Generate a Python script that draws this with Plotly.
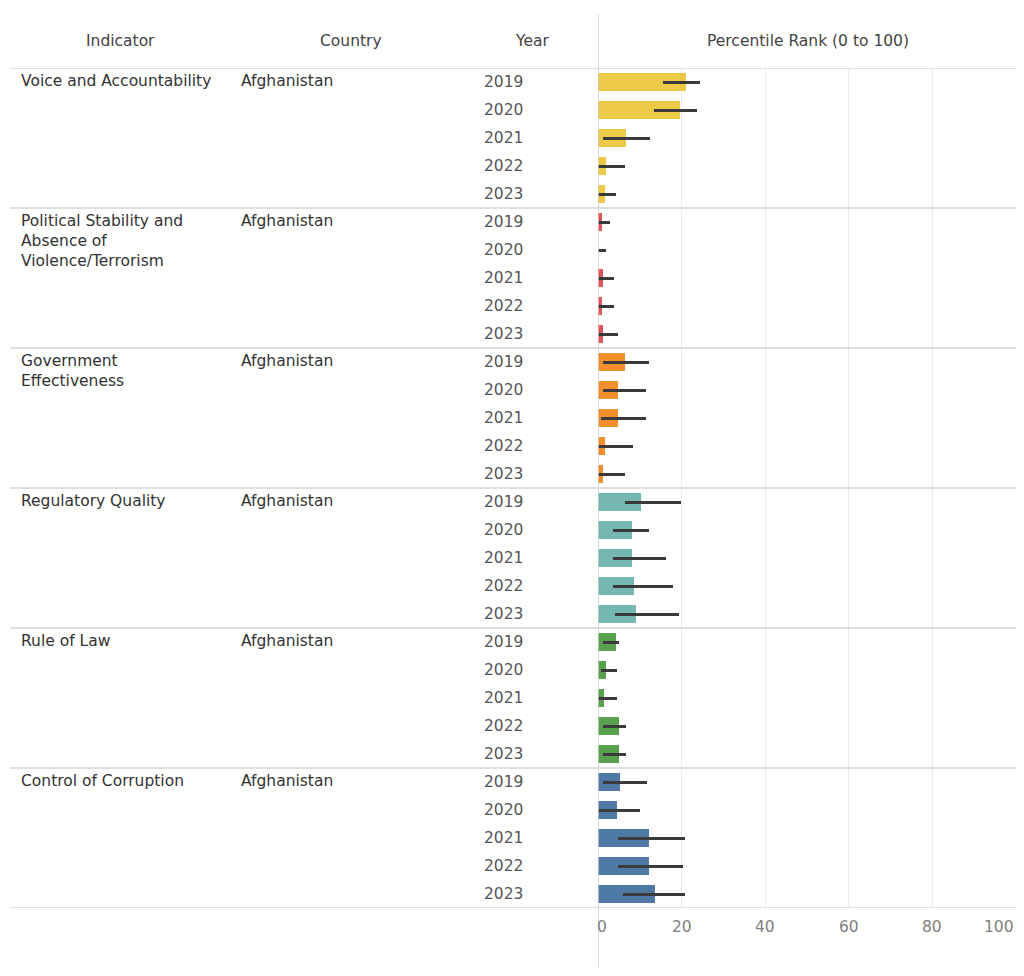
import plotly.graph_objects as go

indicators = [
    "Voice and Accountability",
    "Political Stability and Absence of Violence/Terrorism",
    "Government Effectiveness",
    "Regulatory Quality",
    "Rule of Law",
    "Control of Corruption",
]
indicator_labels = [
    "Voice and Accountability",
    "Political Stability and<br>Absence of<br>Violence/Terrorism",
    "Government<br>Effectiveness",
    "Regulatory Quality",
    "Rule of Law",
    "Control of Corruption",
]
country = "Afghanistan"
years = [2019, 2020, 2021, 2022, 2023]

rank = [
    [21.1, 19.5, 6.8, 2.0, 1.6],
    [0.9, 0.0, 1.2, 0.9, 1.2],
    [6.5, 4.9, 4.9, 1.6, 1.2],
    [10.2, 8.1, 8.1, 8.6, 9.1],
    [4.3, 2.0, 1.5, 5.0, 5.0],
    [5.3, 4.5, 12.2, 12.2, 13.7],
]
lower = [
    [15.6, 13.4, 1.2, 0.0, 0.0],
    [0.0, 0.0, 0.0, 0.0, 0.0],
    [1.2, 1.2, 0.8, 0.0, 0.0],
    [6.5, 3.6, 3.6, 3.6, 4.0],
    [1.2, 0.8, 0.0, 1.2, 1.2],
    [1.2, 0.0, 4.7, 4.7, 5.9],
]
upper = [
    [24.4, 23.7, 12.4, 6.4, 4.2],
    [2.8, 2.0, 3.9, 3.9, 4.9],
    [12.1, 11.5, 11.5, 8.3, 6.4],
    [19.9, 12.1, 16.2, 18.0, 19.4],
    [5.0, 4.5, 4.5, 6.8, 6.8],
    [11.8, 10.1, 20.8, 20.3, 20.8],
]
colors = ["#EDC948", "#E15759", "#F28E2B", "#76B7B2", "#59A14F", "#4E79A7"]
x_ticks = [0, 20, 40, 60, 80, 100]

# page has an 8px body margin; figure fills the rest of the 1024x976 window
OFF = 8
W, H = 1008, 960
FONT = "DejaVu Sans"
TXT = "#333333"
FS = 15.5

fig = go.Figure()
categories = []
for k, ind in enumerate(indicators):
    keys = [f"{ind}|{y}" for y in years]
    categories += keys
    fig.add_bar(
        x=rank[k], y=keys, orientation="h", width=0.66,
        marker=dict(color=colors[k], line=dict(width=0)),
        error_x=dict(type="data", symmetric=False,
                     array=[u - v for u, v in zip(upper[k], rank[k])],
                     arrayminus=[v - l for v, l in zip(rank[k], lower[k])],
                     thickness=3, width=0, color="#3a3a3a"),
        hovertemplate=f"{ind}<br>%{{x}}<extra></extra>",
        showlegend=False,
    )

px = lambda p: min(1.0, (p - OFF) / W)
py = lambda p: 1 - (p - OFF) / H

ann = []
hdr = dict(xref="paper", yref="paper", y=py(41), showarrow=False,
           font=dict(family=FONT, size=FS, color="#444"), yanchor="middle")
ann.append(dict(hdr, x=px(120), text="Indicator", xanchor="center"))
ann.append(dict(hdr, x=px(351), text="Country", xanchor="center"))
ann.append(dict(hdr, x=px(532), text="Year", xanchor="center"))
ann.append(dict(hdr, x=px(808), text="Percentile Rank (0 to 100)", xanchor="center"))

for k, ind in enumerate(indicators):
    first = f"{ind}|{years[0]}"
    ann.append(dict(xref="paper", yref="y", x=px(19), y=first, yshift=12,
                    text=indicator_labels[k], showarrow=False, xanchor="left",
                    yanchor="top", align="left",
                    font=dict(family=FONT, size=FS, color=TXT)))
    ann.append(dict(xref="paper", yref="y", x=px(239), y=first, yshift=12,
                    text=country, showarrow=False, xanchor="left", yanchor="top",
                    font=dict(family=FONT, size=FS, color=TXT)))
    for y in years:
        ann.append(dict(xref="paper", yref="y", x=px(525), y=f"{ind}|{y}",
                        text=str(y), showarrow=False, xanchor="right",
                        yanchor="middle",
                        font=dict(family=FONT, size=FS, color="#555")))

for t in x_ticks:
    xa = "left" if t == x_ticks[0] else ("right" if t == x_ticks[-1] else "center")
    ann.append(dict(xref="x", yref="paper", x=t, y=py(927), text=str(t),
                    showarrow=False, xanchor=xa, yanchor="middle",
                    xshift=(-3 if xa == "left" else 0),
                    font=dict(family=FONT, size=FS, color="#808080")))

shapes = []
n = len(years)
for k in range(len(indicators) + 1):
    yb = k * n - 0.5
    shapes.append(dict(type="line", xref="paper", yref="y", x0=px(10), x1=px(1020),
                       y0=yb, y1=yb, line=dict(color="#d4d4d4", width=1.5)))
shapes.append(dict(type="line", xref="x", yref="paper", x0=0, x1=0,
                   y0=0, y1=py(14), line=dict(color="#cccccc", width=1.5)))

fig.update_layout(
    width=W, height=H, margin=dict(l=0, r=0, t=0, b=0),
    paper_bgcolor="white", plot_bgcolor="white",
    barmode="overlay", bargap=0,
    annotations=ann, shapes=shapes,
    xaxis=dict(domain=[px(598), 1.0], range=[0, 100], tickvals=x_ticks[1:-1],
               showgrid=True, gridcolor="#ececec", gridwidth=1, zeroline=False,
               showticklabels=False, ticks="", showline=False, fixedrange=True),
    yaxis=dict(domain=[py(908), py(68)], type="category",
               categoryorder="array", categoryarray=categories,
               range=[len(categories) - 0.5, -0.5], showticklabels=False,
               showgrid=False, zeroline=False, ticks="", fixedrange=True),
    font=dict(family=FONT),
)

fig.write_html("out.html", config={"displayModeBar": False})
